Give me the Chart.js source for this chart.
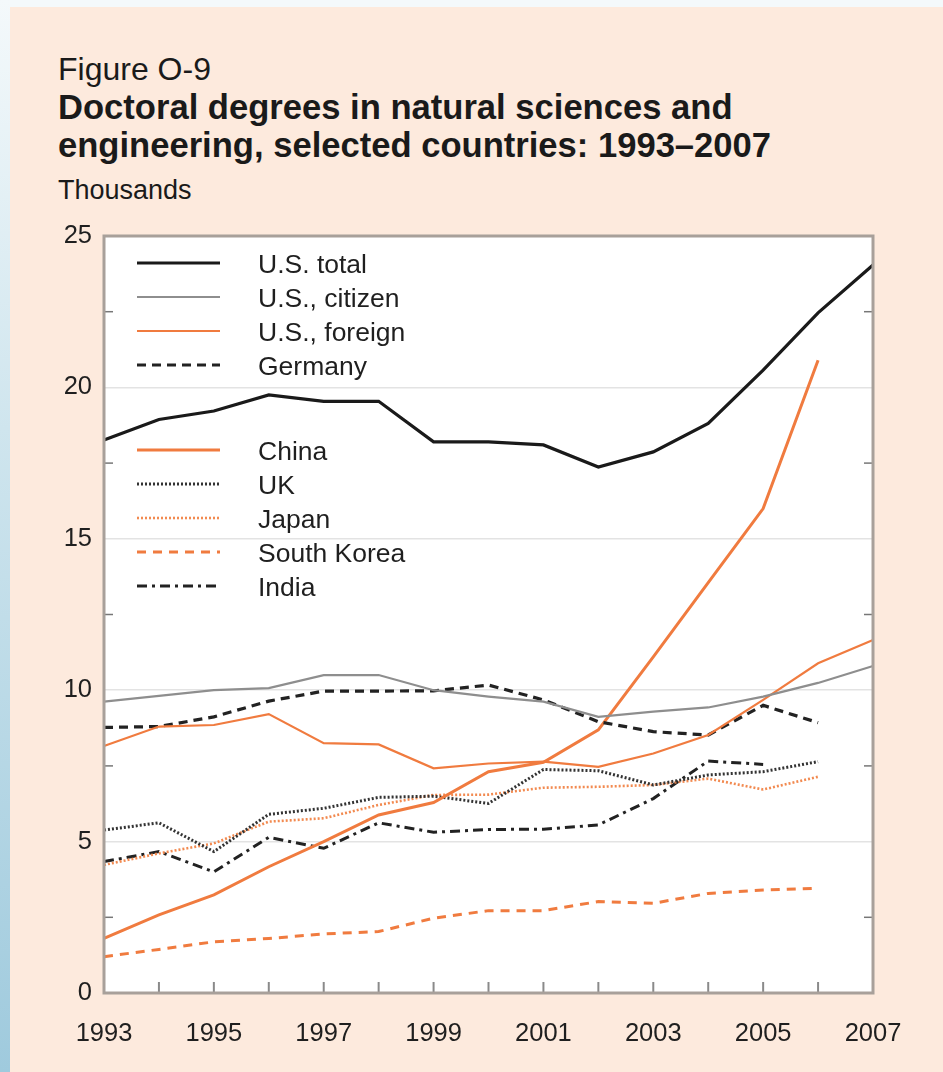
<!DOCTYPE html>
<html><head><meta charset="utf-8">
<script src="https://cdn.jsdelivr.net/npm/chart.js@4.4.1/dist/chart.umd.min.js"></script>
<style>
html,body{margin:0;padding:0;}
body{width:943px;height:1072px;position:relative;overflow:hidden;background:#fdeadd;font-family:"Liberation Sans",Arial,sans-serif;color:#1a1a1a;}
#topstrip{position:absolute;left:0;top:0;width:943px;height:7px;background:#f4f9fb;}
#leftstrip{position:absolute;left:0;top:0;width:10px;height:1072px;background:linear-gradient(#f4f9fb,#cfe5ee 40%,#9fcadd);}
.t{position:absolute;left:58px;white-space:nowrap;line-height:1;}
#fig{top:53px;font-size:32px;}
#h1{top:90px;font-size:34.6px;font-weight:bold;}
#h2{top:128px;font-size:34.6px;font-weight:bold;}
#units{top:177px;font-size:27px;}
#wrap{position:absolute;left:0;top:0;width:943px;height:1072px;}
</style></head>
<body>
<div id="topstrip"></div>
<div id="leftstrip"></div>
<div class="t" id="fig">Figure O-9</div>
<div class="t" id="h1">Doctoral degrees in natural sciences and</div>
<div class="t" id="h2">engineering, selected countries: 1993–2007</div>
<div class="t" id="units">Thousands</div>
<div id="wrap"><canvas id="c" width="943" height="1072"></canvas></div>
<script>
// ---- data (thousands) ----
const years = ['1993','1994','1995','1996','1997','1998','1999','2000','2001','2002','2003','2004','2005','2006','2007'];
const usTotal    = [18.26, 18.94, 19.22, 19.75, 19.54, 19.54, 18.2, 18.2, 18.1, 17.37, 17.87, 18.81, 20.57, 22.46, 24.04];
const usCitizen  = [9.62, 9.81, 10.0, 10.07, 10.5, 10.5, 10.0, 9.79, 9.62, 9.12, 9.29, 9.43, 9.79, 10.24, 10.8];
const usForeign  = [8.16, 8.8, 8.85, 9.21, 8.25, 8.21, 7.42, 7.58, 7.64, 7.47, 7.91, 8.52, 9.68, 10.89, 11.66];
const germany    = [8.77, 8.8, 9.12, 9.64, 9.97, 9.97, 9.98, 10.17, 9.68, 8.96, 8.63, 8.52, 9.5, 8.93, null];
const china      = [1.8, 2.58, 3.24, 4.17, 5.0, 5.88, 6.29, 7.31, 7.62, 8.69, 11.1, 13.55, 16.0, 20.9, null];
const uk         = [5.38, 5.62, 4.67, 5.9, 6.1, 6.46, 6.5, 6.26, 7.38, 7.34, 6.87, 7.2, 7.31, 7.64, null];
const japan      = [4.23, 4.61, 4.94, 5.66, 5.77, 6.21, 6.54, 6.55, 6.78, 6.81, 6.87, 7.08, 6.72, 7.14, null];
const southKorea = [1.2, 1.44, 1.69, 1.8, 1.95, 2.03, 2.47, 2.72, 2.72, 3.02, 2.96, 3.29, 3.4, 3.46, null];
const india      = [4.34, 4.67, 4.0, 5.14, 4.78, 5.62, 5.31, 5.4, 5.41, 5.55, 6.42, 7.66, 7.55, null, null];
const seriesNames = ['U.S. total','U.S., citizen','U.S., foreign','Germany','China','UK','Japan','South Korea','India'];
const yTicks = [0, 5, 10, 15, 20, 25];
const yMinorTicks = [2.5, 7.5, 12.5, 17.5, 22.5];

const ORANGE = '#f07b3f';
const styles = [
  {c:'#1a1a1a', w:3.2, d:[]},
  {c:'#8e8e8e', w:2.2, d:[]},
  {c:ORANGE,    w:2.2, d:[]},
  {c:'#222222', w:3.2, d:[9,6]},
  {c:ORANGE,    w:3,   d:[]},
  {c:'#333333', w:3,   d:[2,2]},
  {c:'#f28a50', w:2.6, d:[2,2]},
  {c:ORANGE,    w:3,   d:[9,7]},
  {c:'#222222', w:3,   d:[10,5,3,5]}
];
const seriesData = [usTotal, usCitizen, usForeign, germany, china, uk, japan, southKorea, india];

const datasets = seriesData.map((arr,i)=>({
  label: seriesNames[i],
  data: arr,
  borderColor: styles[i].c,
  borderWidth: styles[i].w,
  borderDash: styles[i].d,
  pointRadius: 0,
  tension: 0,
  fill: false,
  spanGaps: false
}));

const FONT = '"Liberation Sans", Arial, sans-serif';
const legendSlots = [0,1,2,3,5.5,6.5,7.5,8.5,9.5];

const framePlugin = {
  id:'frame',
  beforeDraw(chart){
    const {ctx, chartArea:a} = chart;
    ctx.save();
    ctx.fillStyle = '#ffffff';
    ctx.fillRect(a.left, a.top, a.right-a.left, a.bottom-a.top);
    ctx.restore();
  },
  afterDatasetsDraw(chart){
    const {ctx, chartArea:a, scales} = chart;
    ctx.save();
    ctx.strokeStyle = '#777'; ctx.lineWidth = 1.5;
    yMinorTicks.forEach(v=>{
      const y = scales.y.getPixelForValue(v);
      ctx.beginPath(); ctx.moveTo(a.left, y); ctx.lineTo(a.left+9, y); ctx.stroke();
      ctx.beginPath(); ctx.moveTo(a.right-9, y); ctx.lineTo(a.right, y); ctx.stroke();
    });
    ctx.strokeStyle = '#8a8a8a'; ctx.lineWidth = 2;
    years.forEach((yr,i)=>{
      const x = scales.x.getPixelForValue(i);
      ctx.beginPath(); ctx.moveTo(x, a.bottom); ctx.lineTo(x, a.bottom-11); ctx.stroke();
    });
    ctx.strokeStyle = '#a8a09a'; ctx.lineWidth = 3;
    ctx.strokeRect(a.left, a.top, a.right-a.left, a.bottom-a.top);
    ctx.restore();
  },
  afterDraw(chart){
    const {ctx, chartArea:a} = chart;
    ctx.save();
    chart.data.datasets.forEach((ds,i)=>{
      const y = a.top + 27 + legendSlots[i]*34;
      ctx.strokeStyle = ds.borderColor;
      ctx.lineWidth = ds.borderWidth;
      ctx.setLineDash(ds.borderDash || []);
      ctx.beginPath(); ctx.moveTo(a.left+33, y); ctx.lineTo(a.left+116, y); ctx.stroke();
      ctx.setLineDash([]);
      ctx.fillStyle = '#1f1f1f';
      ctx.font = '26.5px ' + FONT;
      ctx.textBaseline = 'middle';
      ctx.textAlign = 'left';
      ctx.fillText(ds.label, a.left+154, y+3);
    });
    ctx.restore();
  }
};

new Chart(document.getElementById('c'), {
  type:'line',
  data:{ labels: years, datasets },
  plugins:[framePlugin],
  options:{
    responsive:false,
    animation:false,
    layout:{ padding:{ left:0, top:236, right:70, bottom:0 } },
    plugins:{ legend:{display:false}, title:{display:false}, tooltip:{enabled:false} },
    scales:{
      x:{
        type:'category',
        offset:false,
        afterFit(s){ s.height = 79; },
        grid:{ display:false, drawTicks:false },
        border:{ display:false },
        ticks:{
          autoSkip:false, maxRotation:0, padding:26,
          color:'#1f1f1f', font:{ family:FONT, size:25.5 },
          callback(v, i){ const yr = parseInt(years[i]); return (yr % 2 === 1) ? years[i] : ''; }
        }
      },
      y:{
        min:0, max:25,
        afterFit(s){ s.width = 104; },
        afterBuildTicks(s){ s.ticks = yTicks.map(v=>({value:v})); },
        grid:{
          drawTicks:false, lineWidth:1.5,
          color(ctx){ const v = ctx.tick ? ctx.tick.value : null; return (v===0 || v===25) ? 'rgba(0,0,0,0)' : '#e3e3e3'; }
        },
        border:{ display:false },
        ticks:{ padding:12, color:'#1f1f1f', font:{ family:FONT, size:25.5 } }
      }
    }
  }
});
</script>
</body></html>
